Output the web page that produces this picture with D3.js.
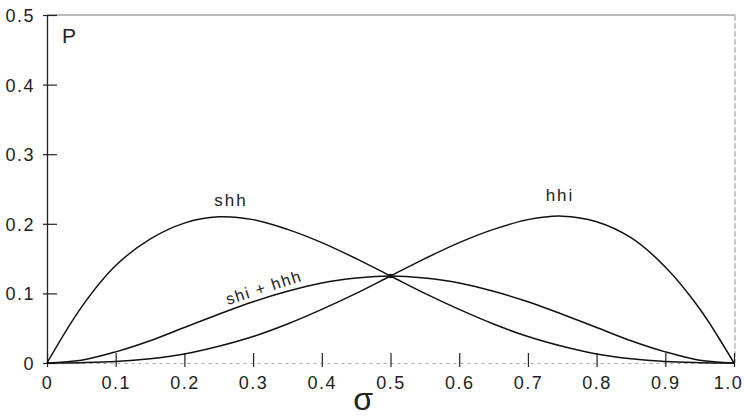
<!DOCTYPE html>
<html>
<head>
<meta charset="utf-8">
<script src="https://cdn.jsdelivr.net/npm/d3@7"></script>
<style>
  body { margin: 0; background: #fff; }
  text { font-family: "Liberation Sans", "DejaVu Sans", sans-serif; fill: #222; }
</style>
</head>
<body>
<svg id="chart" width="744" height="419"></svg>
<script>
// sigma values along the x axis
const sigma = [0, 0.05, 0.1, 0.15, 0.2, 0.25, 0.3, 0.35, 0.4, 0.45, 0.5,
  0.55, 0.6, 0.65, 0.7, 0.75, 0.8, 0.85, 0.9, 0.95, 1.0];
// curves
const shh = [0, 0.080, 0.140, 0.178, 0.201, 0.210, 0.206, 0.192, 0.173, 0.150, 0.125,
  0.100, 0.077, 0.056, 0.038, 0.024, 0.013, 0.006, 0.002, 0.0005, 0];
const hhi = [0, 0.0005, 0.002, 0.006, 0.013, 0.024, 0.038, 0.056, 0.077, 0.100, 0.125,
  0.150, 0.173, 0.192, 0.206, 0.211, 0.203, 0.180, 0.138, 0.078, 0];
const shiHhh = [0, 0.004, 0.016, 0.032, 0.051, 0.070, 0.088, 0.103, 0.115, 0.122, 0.125,
  0.122, 0.115, 0.103, 0.088, 0.070, 0.051, 0.032, 0.016, 0.004, 0];
const crossing = [{ s: 0.5, p: 0.125 }];

const xTicks = [0, 0.1, 0.2, 0.3, 0.4, 0.5, 0.6, 0.7, 0.8, 0.9, 1.0];
const yTicks = [0, 0.1, 0.2, 0.3, 0.4, 0.5];

const svg = d3.select("#chart");
const x = d3.scaleLinear().domain([0, 1]).range([47, 734]);
const y = d3.scaleLinear().domain([0, 0.5]).range([363, 15]);

const fmt = (d) => (d === 0 ? "0" : d3.format(".1f")(d));

// frame: top and right (faint)
svg.append("line")
  .attr("x1", x(0)).attr("x2", x(1) + 1).attr("y1", y(0.5)).attr("y2", y(0.5))
  .attr("stroke", "#777").attr("stroke-width", 1.2);
svg.append("line")
  .attr("x1", x(1) + 1).attr("x2", x(1) + 1).attr("y1", y(0.5)).attr("y2", y(0))
  .attr("stroke", "#999").attr("stroke-width", 1).attr("stroke-dasharray", "6,2");

// y axis
const yAxis = svg.append("g")
  .attr("transform", `translate(${x(0)},0)`)
  .call(d3.axisLeft(y).tickValues(yTicks).tickFormat(fmt).tickSize(-10).tickSizeOuter(0).tickPadding(12));
yAxis.select(".domain").attr("stroke", "#222").attr("stroke-width", 1.3);
yAxis.selectAll(".tick line").attr("x1", -4).attr("stroke", "#222").attr("stroke-width", 1.2);
yAxis.selectAll(".tick text")
  .style("font-size", "18px").style("letter-spacing", "1.5px")
  .attr("fill", "#222").attr("dy", "0.36em");

// x axis
const xAxis = svg.append("g")
  .attr("transform", `translate(0,${y(0)})`)
  .call(d3.axisBottom(x).tickValues(xTicks).tickFormat(fmt).tickSize(-10).tickSizeOuter(0).tickPadding(13));
xAxis.select(".domain").attr("stroke", "#aaa").attr("stroke-width", 1).attr("stroke-dasharray", "3,4");
xAxis.selectAll(".tick line").attr("y1", 4).attr("stroke", "#222").attr("stroke-width", 1.2);
xAxis.selectAll(".tick text")
  .style("font-size", "18px").style("letter-spacing", "1.5px")
  .attr("fill", "#222");
xAxis.selectAll(".tick text").filter((d) => d === 1).attr("dx", "-6px");

// curves
const line = d3.line()
  .x((d, i) => x(sigma[i]))
  .y((d) => y(d))
  .curve(d3.curveCatmullRom);

svg.append("g")
  .selectAll("path")
  .data([shh, hhi, shiHhh])
  .enter()
  .append("path")
  .attr("d", line)
  .attr("fill", "none")
  .attr("stroke", "#111")
  .attr("stroke-width", 1.5);

svg.selectAll("circle.cross")
  .data(crossing)
  .enter()
  .append("circle")
  .attr("class", "cross")
  .attr("cx", (d) => x(d.s))
  .attr("cy", (d) => y(d.p))
  .attr("r", 2.2)
  .attr("fill", "#111");

// labels
svg.append("text").attr("x", 62).attr("y", 43)
  .style("font-size", "21px").text("P");
svg.append("text").attr("x", 231).attr("y", 206).attr("text-anchor", "middle")
  .style("font-size", "17px").style("letter-spacing", "2px").text("shh");
svg.append("text").attr("x", 560).attr("y", 201).attr("text-anchor", "middle")
  .style("font-size", "17px").style("letter-spacing", "2px").text("hhi");
svg.append("text")
  .attr("transform", "translate(228,305) rotate(-18)")
  .style("font-size", "16px").style("letter-spacing", "1.5px").text("shi + hhh");
svg.append("text").attr("x", 363).attr("y", 410).attr("text-anchor", "middle")
  .style("font-size", "32px").text("σ");
</script>
</body>
</html>
